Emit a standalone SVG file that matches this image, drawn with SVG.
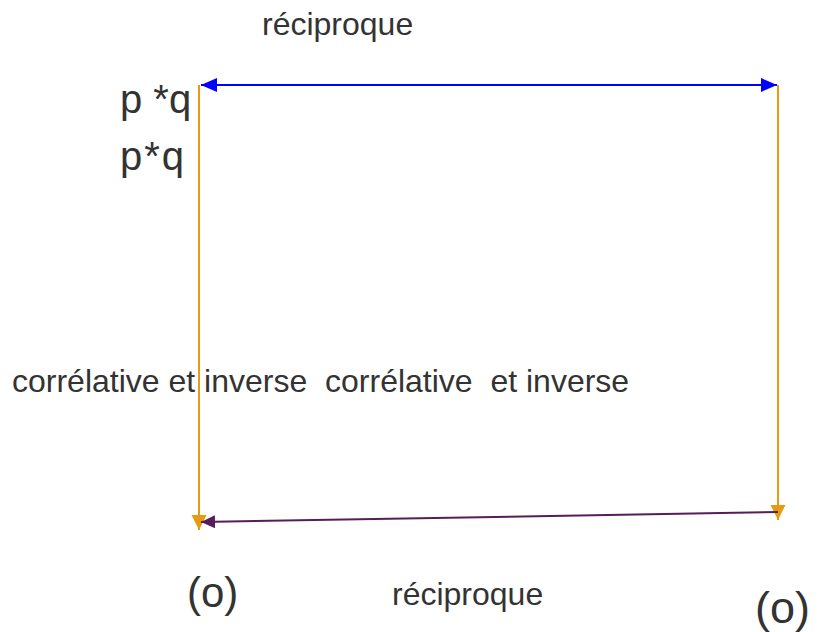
<svg xmlns="http://www.w3.org/2000/svg" width="817" height="632" viewBox="0 0 817 632">
<style>
text{font-family:"Liberation Sans",Arial,sans-serif;fill:#333333;white-space:pre}
.lbl{font-size:32px}
.big{font-size:40px}
.c{fill:none;stroke-width:2}
</style>
<defs>
<marker id="ab" markerUnits="userSpaceOnUse" markerWidth="18" markerHeight="16" refX="16" refY="7" orient="auto-start-reverse"><path d="M0,0 L16,7 L0,14 z" fill="#0000ff"/></marker>
<marker id="ao" markerUnits="userSpaceOnUse" markerWidth="18" markerHeight="16" refX="15" refY="7.5" orient="auto"><path d="M0,0 L15,7.5 L0,15 z" fill="#e69b12"/></marker>
<marker id="ap" markerUnits="userSpaceOnUse" markerWidth="16" markerHeight="14" refX="14" refY="6.5" orient="auto"><path d="M0,0 L14,6.5 L0,13 z" fill="#561d58"/></marker>
</defs>
<rect width="817" height="632" fill="#ffffff"/>
<g id="connectors">
<line class="c" x1="199" y1="85" x2="199" y2="530" stroke="#e69b12" marker-end="url(#ao)"/>
<line class="c" x1="778" y1="85" x2="778" y2="520" stroke="#e69b12" marker-end="url(#ao)"/>
<line class="c" x1="201" y1="85" x2="777" y2="85" stroke="#0000ff" marker-start="url(#ab)" marker-end="url(#ab)"/>
<line class="c" x1="778" y1="512" x2="201" y2="522" stroke="#561d58" marker-end="url(#ap)"/>
</g>
<g id="label-top"><text class="lbl" x="262" y="35">réciproque</text></g>
<g id="node-pq1"><text class="big" x="120" y="113">p *q</text></g>
<g id="node-pq2"><text class="big" x="120" y="170" textLength="64">p*q</text></g>
<g id="label-middle"><text class="lbl" x="12" y="392">corrélative et inverse  corrélative  et inverse</text></g>
<g id="node-o-left"><text class="big" x="187" y="607" style="font-size:42px">(o)</text></g>
<g id="label-bottom"><text class="lbl" x="392" y="605">réciproque</text></g>
<g id="node-o-right"><text class="big" x="755" y="623" style="font-size:45px">(o)</text></g>
</svg>
